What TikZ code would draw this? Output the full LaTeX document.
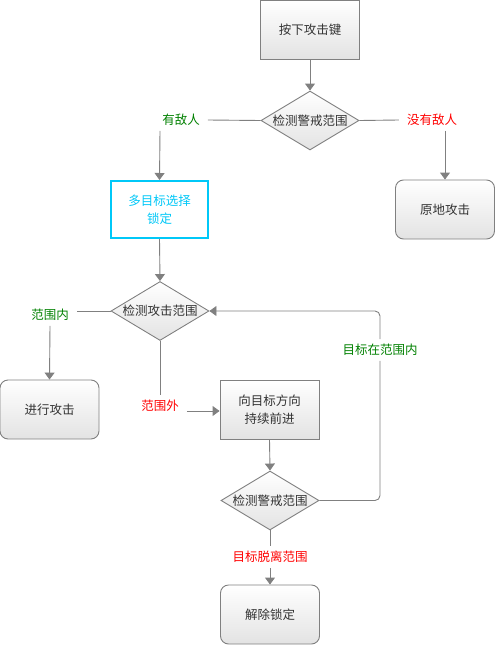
\documentclass[tikz,border=0pt]{standalone}
\usepackage{fontspec}
\newfontfamily\cjk{Noto Sans CJK SC}
\usetikzlibrary{arrows.meta,shapes.geometric}
\definecolor{lineg}{HTML}{808080}
\definecolor{txt}{HTML}{333333}
\definecolor{grn}{HTML}{008000}
\definecolor{rd}{HTML}{FF0000}
\definecolor{cyn}{HTML}{00C8F8}
\tikzset{
  every node/.style={font=\cjk\fontsize{12.5}{18}\selectfont, text=txt, inner sep=0pt},
  shade1/.style={top color=white, bottom color=black!11, draw=lineg, line width=0.9pt},
  sqbox/.style={shade1, minimum width=99pt, minimum height=59pt, align=center},
  rbox/.style={sqbox, rounded corners=8pt},
  dia/.style={shade1, diamond, minimum width=98pt, minimum height=59pt, aspect=1.66, inner sep=0pt},
  lbl/.style={inner xsep=8pt, inner ysep=5pt},
  gl/.style={lbl, text=grn},
  rl/.style={lbl, text=rd},
  conn/.style={draw=lineg, line width=0.9pt},
  arr/.style={conn, -{Triangle[width=10pt,length=7pt]}, lineg},
}
\begin{document}
\begin{tikzpicture}[x=1pt,y=-1pt]
\useasboundingbox (0,0) rectangle (495,645);
\node[sqbox] (start) at (310,29.5) {按下攻击键};
\node[dia] (d1) at (310,120.5) {检测警戒范围};
\node[gl] (yes1) at (181,120) {有敌人};
\node[rl] (no1) at (432,120) {没有敌人};
\node[draw=cyn, line width=2pt, fill=white, minimum width=97pt, minimum height=57pt, align=center, text=cyn] (lock) at (159.5,209.5) {多目标选择\\锁定};
\node[rbox] (stay) at (445,209.5) {原地攻击};
\node[dia] (d2) at (160,311) {检测攻击范围};
\node[gl] (in) at (50,315) {范围内};
\node[rbox] (atk) at (49.5,409.5) {进行攻击};
\node[rl] (out) at (160,406) {范围外};
\node[sqbox] (move) at (269.5,409.5) {向目标方向\\持续前进};
\node[dia] (d3) at (270,500.5) {检测警戒范围};
\node[gl] (inr) at (380,350) {目标在范围内};
\node[rl] (lost) at (270,557) {目标脱离范围};
\node[rbox] (unlock) at (270,614.5) {解除锁定};
\coordinate (c1) at (160,120);
\coordinate (c2) at (445,120);
\coordinate (c3) at (50,311);
\coordinate (c4) at (160,411);
\coordinate (c5) at (380,500.5);
\coordinate (c6) at (380,311);
% connectors
\draw[arr] (start) -- (d1);
\draw[conn] (d1.west) -- (yes1.east);
\draw[arr] (yes1.south -| c1) -- (lock.north);
\draw[conn] (d1.east) -- (no1.west);
\draw[arr] (no1.south -| c2) -- (stay.north);
\draw[arr] (lock.south) -- (d2.north);
\draw[conn] (d2.west) -- (in.east |- c3);
\draw[arr] (in.south) -- (atk.north);
\draw[conn] (d2.south) -- (out.north);
\draw[arr] (out.east |- c4) -- (move.west |- c4);
\draw[arr] (move.south) -- (d3.north);
\draw[conn, rounded corners=5pt] (d3.east) -- (c5) -- (inr.south);
\draw[arr, rounded corners=5pt] (inr.north) -- (c6) -- (d2.east);
\draw[conn] (d3.south) -- (lost.north);
\draw[arr] (lost.south) -- (unlock.north);
\end{tikzpicture}
\end{document}
